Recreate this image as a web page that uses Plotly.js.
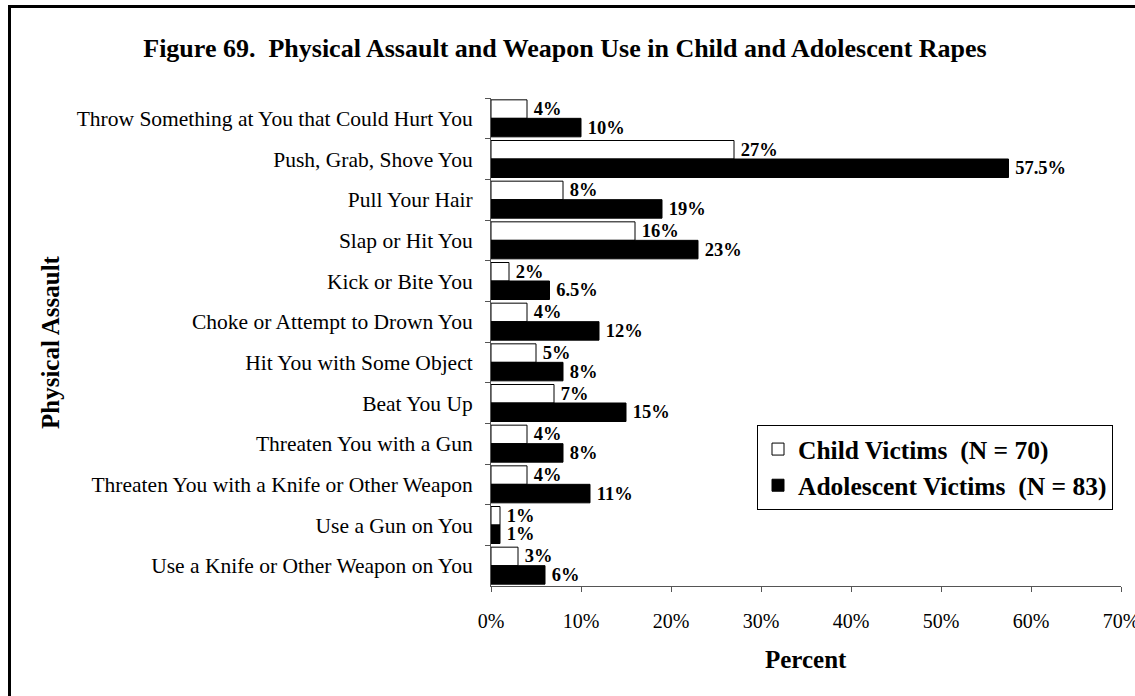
<!DOCTYPE html>
<html>
<head>
<meta charset="utf-8">
<script src="https://cdn.plot.ly/plotly-3.0.1.min.js"></script>
<style>
  html, body { margin: 0; padding: 0; background: #fff; overflow: hidden; }
  #wrap { position: relative; width: 1135px; height: 696px; overflow: hidden; }
  #chart { width: 1135px; height: 696px; }
  #frame { position: absolute; left: 8px; top: 5px; width: 2000px; height: 2000px;
           border-left: 3px solid #000; border-top: 3px solid #000; pointer-events: none; }
</style>
</head>
<body>
<div id="wrap">
  <div id="chart"></div>
  <div id="frame"></div>
</div>
<script>
const categories = [
  "Throw Something at You that Could Hurt You",
  "Push, Grab, Shove You",
  "Pull Your Hair",
  "Slap or Hit You",
  "Kick or Bite You",
  "Choke or Attempt to Drown You",
  "Hit You with Some Object",
  "Beat You Up",
  "Threaten You with a Gun",
  "Threaten You with a Knife or Other Weapon",
  "Use a Gun on You",
  "Use a Knife or Other Weapon on You"
];
const childVictims = [4, 27, 8, 16, 2, 4, 5, 7, 4, 4, 1, 3];
const adolescentVictims = [10, 57.5, 19, 23, 6.5, 12, 8, 15, 8, 11, 1, 6];
const seriesNames = ["Child Victims\u00a0\u00a0(N = 70)", "Adolescent Victims\u00a0\u00a0(N = 83)"];
const xTickValues = [0, 10, 20, 30, 40, 50, 60, 70];

const FONT = "Liberation Serif, Times New Roman, serif";

function barTrace(name, values, fill) {
  return {
    type: "bar", orientation: "h",
    name: name,
    y: categories, x: values,
    text: values.map(v => "\u2009" + v + "%"),
    textposition: "outside",
    constraintext: "none",
    cliponaxis: false,
    textfont: { family: FONT, size: 18.5, color: "#000", weight: "bold" },
    marker: { color: fill, line: { color: "#000", width: 1 } },
    hoverinfo: "skip"
  };
}

const traces = [
  barTrace(seriesNames[0], childVictims, "#ffffff"),
  barTrace(seriesNames[1], adolescentVictims, "#000000")
];

const layout = {
  width: 1135, height: 696,
  paper_bgcolor: "#fff", plot_bgcolor: "#fff",
  font: { family: FONT, color: "#000" },
  margin: { l: 491, r: 14, t: 98, b: 110, pad: 0 },
  barmode: "group",
  bargap: 0.09,
  bargroupgap: 0,
  showlegend: true,
  title: {
    text: "Figure 69.\u00a0\u00a0Physical Assault and Weapon Use in Child and Adolescent Rapes",
    font: { family: FONT, size: 26, color: "#000", weight: "bold" },
    x: 565 / 1135, xanchor: "center", xref: "container",
    y: 1 - 48 / 696, yanchor: "middle", yref: "container"
  },
  xaxis: {
    range: [0, 70],
    tickvals: xTickValues,
    ticktext: xTickValues.map(v => v + "%"),
    showgrid: false, zeroline: false,
    showline: true, linecolor: "#555", linewidth: 1,
    ticks: "outside", ticklen: 5, tickcolor: "#555",
    ticklabelstandoff: 12,
    ticklabeloverflow: "allow",
    tickfont: { family: FONT, size: 20, color: "#000" },
    fixedrange: true
  },
  yaxis: {
    type: "category",
    autorange: "reversed",
    showgrid: false, zeroline: false,
    showline: true, linecolor: "#555", linewidth: 1,
    ticks: "outside", ticklen: 5, tickcolor: "#555",
    tickson: "boundaries",
    ticklabelstandoff: 13,
    tickfont: { family: FONT, size: 21.5, color: "#000" },
    fixedrange: true
  },
  legend: {
    x: (757 - 491) / 630, xanchor: "left",
    y: (586 - 425) / 488, yanchor: "top",
    bgcolor: "#fff", bordercolor: "#000", borderwidth: 1,
    font: { family: FONT, size: 25.5, color: "#000", weight: "bold" },
    itemwidth: 30,
    traceorder: "normal"
  },
  annotations: [
    {
      text: "Physical Assault", textangle: -90,
      xref: "paper", yref: "paper",
      x: (50 - 491) / 630, y: 0.5, xanchor: "center", yanchor: "middle",
      showarrow: false,
      font: { family: FONT, size: 25, color: "#000", weight: "bold" }
    },
    {
      text: "Percent",
      xref: "paper", yref: "paper",
      x: 0.5, y: -(659 - 586) / 488, xanchor: "center", yanchor: "middle",
      showarrow: false,
      font: { family: FONT, size: 25, color: "#000", weight: "bold" }
    }
  ]
};

Plotly.newPlot("chart", traces, layout, { displayModeBar: false, staticPlot: true });
</script>
</body>
</html>
